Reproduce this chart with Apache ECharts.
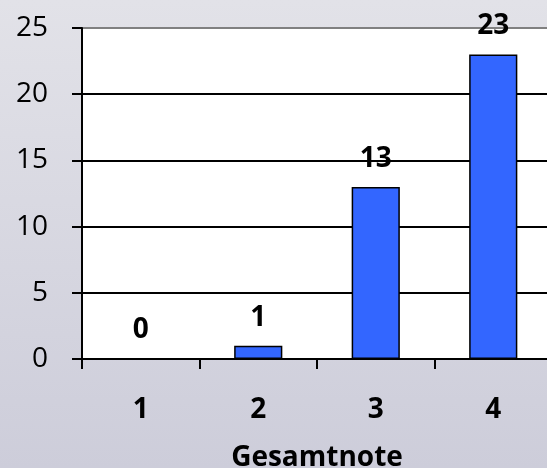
<!DOCTYPE html>
<html><head><meta charset="utf-8">
<script src="https://cdn.jsdelivr.net/npm/echarts@6/dist/echarts.min.js"></script>
<style>html,body{margin:0;padding:0;}#c{width:547px;height:468px;}</style>
</head><body><div id="c"></div>
<script>
const categories = ['1', '2', '3', '4'];
const values = [0, 1, 13, 23];
const yTicks = [0, 5, 10, 15, 20, 25];
const axisName = 'Gesamtnote';

const FONT = 'Open Sans';
const chart = echarts.init(document.getElementById('c'), null, {renderer: 'canvas'});
chart.setOption({
  animation: false,
  backgroundColor: new echarts.graphic.LinearGradient(0, 0, 0, 1, [
    {offset: 0, color: '#e2e2e8'}, {offset: 1, color: '#cdcdda'}
  ]),
  grid: {left: 82, right: -5, top: 28, bottom: 109, show: true, backgroundColor: '#ffffff', borderWidth: 0,
         containLabel: false, outerBoundsMode: 'none'},
  xAxis: {
    type: 'category', data: categories,
    name: axisName, nameLocation: 'middle', nameGap: 85,
    nameTextStyle: {fontFamily: FONT, fontWeight: 'bold', fontSize: 28, color: '#000'},
    axisLine: {lineStyle: {color: '#000', width: 2}},
    axisTick: {show: true, length: 10, lineStyle: {color: '#000', width: 2}},
    axisLabel: {fontFamily: FONT, fontWeight: 'bold', fontSize: 28, color: '#000', margin: 37}
  },
  yAxis: {
    type: 'value', min: yTicks[0], max: yTicks[yTicks.length - 1], interval: 5,
    axisLine: {show: true, lineStyle: {color: '#000', width: 2}},
    axisTick: {show: true, length: 10, lineStyle: {color: '#000', width: 2}},
    axisLabel: {fontFamily: FONT, fontSize: 28, color: '#000', margin: 34},
    splitLine: {show: true, lineStyle: {color: ['#000', '#000', '#000', '#000', '#000', '#808080'], width: 2}}
  },
  series: [{
    type: 'bar', data: values, barCategoryGap: '59%',
    itemStyle: {color: '#3366ff', borderColor: '#000', borderWidth: 1.5},
    label: {show: true, position: 'top', distance: 14, fontFamily: FONT, fontWeight: 'bold', fontSize: 28, color: '#000'}
  }]
});
</script></body></html>
